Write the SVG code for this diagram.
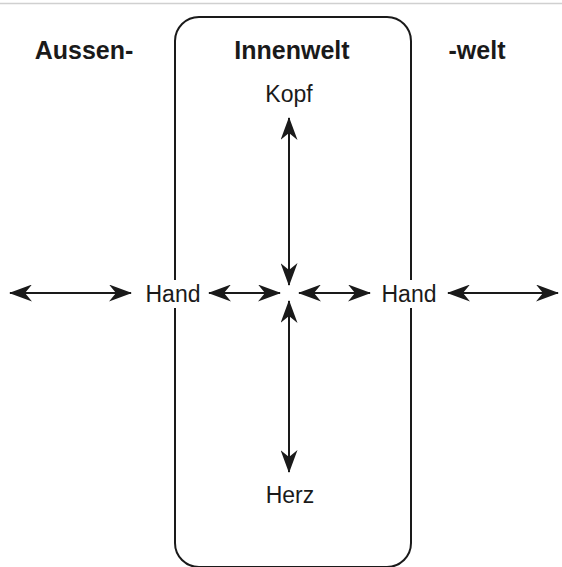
<svg xmlns="http://www.w3.org/2000/svg" width="562" height="567" viewBox="0 0 562 567">
<style>
.t{font-family:"Liberation Sans",Arial,sans-serif;font-size:23px;fill:#1a1a1a;text-anchor:middle}
.b{font-weight:bold;font-size:25px}
.c{stroke:#1a1a1a;stroke-width:2;fill:none}
</style>
<defs>
<marker id="a" viewBox="0 0 23 17" refX="22" refY="8.5" markerWidth="23" markerHeight="17" markerUnits="userSpaceOnUse" orient="auto-start-reverse">
<path d="M0,0 L23,8.5 L0,17 L7,8.5 Z" fill="#1a1a1a"/>
</marker>
</defs>
<rect x="0" y="0" width="562" height="567" fill="#fff"/>
<line x1="0" y1="3.5" x2="562" y2="3.5" stroke="#d0d0d0" stroke-width="1.5"/>
<g id="box"><rect x="175" y="17" width="236" height="550" rx="24" fill="none" stroke="#1a1a1a" stroke-width="2"/></g>
<g id="labels">
<text class="t b" x="84" y="59">Aussen-</text>
<text class="t b" x="292" y="59">Innenwelt</text>
<text class="t b" x="477" y="59">-welt</text>
</g>
<g id="connectors">
<line class="c" x1="10" y1="293" x2="131" y2="293" marker-start="url(#a)" marker-end="url(#a)"/>
<line class="c" x1="209" y1="293" x2="280" y2="293" marker-start="url(#a)" marker-end="url(#a)"/>
<line class="c" x1="299" y1="293" x2="370" y2="293" marker-start="url(#a)" marker-end="url(#a)"/>
<line class="c" x1="448" y1="293" x2="558" y2="293" marker-start="url(#a)" marker-end="url(#a)"/>
<line class="c" x1="289" y1="118" x2="289" y2="285" marker-start="url(#a)" marker-end="url(#a)"/>
<line class="c" x1="289" y1="301" x2="289" y2="472" marker-start="url(#a)" marker-end="url(#a)"/>
</g>
<g id="hand-left"><rect x="142" y="280" width="62" height="28" fill="#fff"/><text class="t" x="173" y="302">Hand</text></g>
<g id="hand-right"><rect x="378" y="280" width="62" height="28" fill="#fff"/><text class="t" x="409" y="302">Hand</text></g>
<g id="kopf"><text class="t" x="289" y="102">Kopf</text></g>
<g id="herz"><text class="t" x="290" y="503">Herz</text></g>
</svg>
